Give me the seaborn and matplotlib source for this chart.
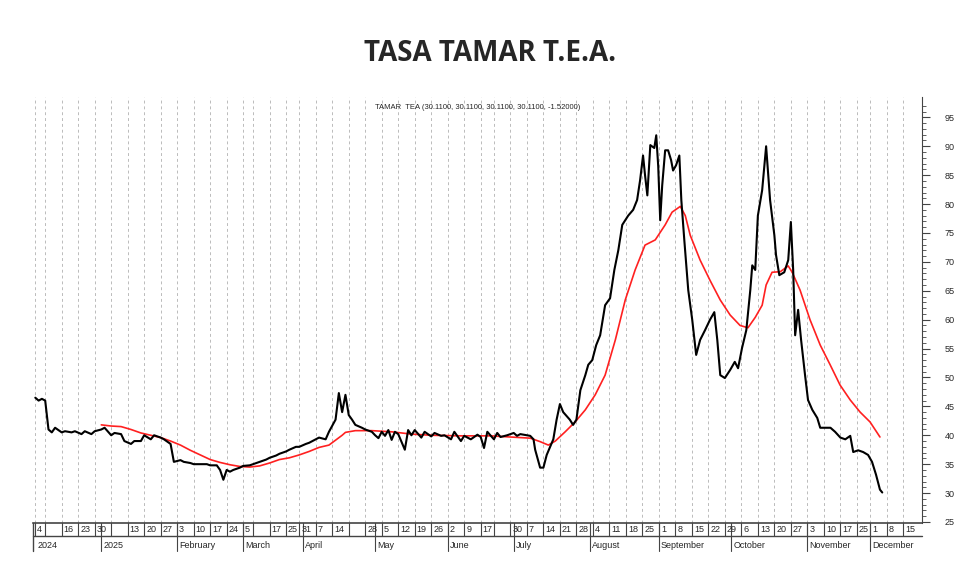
import pandas as pd
import matplotlib
matplotlib.use("Agg")
import matplotlib.pyplot as plt
import matplotlib.transforms as mtransforms
import seaborn as sns

# ----------------------------------------------------------------------
# Data (x = trading session number counted from 2024-12-04)
# ----------------------------------------------------------------------
START = "2024-12-04"
END = "2025-12-19"
HOLIDAYS = ["2025-03-03", "2025-03-04", "2025-03-24", "2025-06-16", "2025-11-24"]

tamar_x = [0, 1, 2, 3, 4, 5, 6, 8, 9, 11, 12, 14, 15, 17, 18, 20, 21, 23, 24, 26,
           27, 29, 30, 32, 33, 35, 36, 38, 39, 41, 42, 44, 45, 47, 48, 50, 52, 53, 55, 56,
           57, 58, 59, 60, 62, 63, 65, 67, 68, 70, 71, 73, 74, 76, 77, 79, 80, 82, 83, 85,
           86, 88, 89, 91, 92, 93, 94, 95, 96, 97, 99, 100, 102, 103, 104, 105, 106, 107, 108, 109,
           110, 112, 113, 114, 115, 117, 118, 120, 121, 123, 124, 126, 127, 129, 130, 132, 134, 135, 136, 137,
           139, 140, 141, 143, 145, 146, 147, 150, 151, 151.5, 153, 154, 155, 157, 158, 159, 160, 162, 163, 164,
           165.2, 166.7, 167.6, 168.8, 170, 171.2, 172.7, 174.2, 175.5, 176.7, 177.9, 179.7, 181.2, 182.4,
           183.3, 184.2, 184.8, 185.5, 186.4, 187.6, 188.2, 188.8, 189.4, 190, 190.9, 191.8, 192.7, 193.3,
           194.2, 195.2, 195.8, 196.7, 197.9, 199.1, 200.3, 201.5, 203, 204.5, 205.8, 206.7, 207.6, 209,
           210.6, 212, 213, 214.2, 215.5, 216.7, 217.3, 218.2, 219, 220.3, 221.5, 222.7, 224, 224.5,
           225.5, 227, 228.2, 229, 229.7, 230.3, 231.2, 232.1, 233.3, 234.2, 235.5, 237, 237.9, 239.4,
           241, 242.4, 244, 245.5, 247, 247.9, 249.4, 250.9, 252.4, 253.6, 254.8, 256, 256.7]
tamar_y = [46.5, 46.0, 46.3, 46.0, 41.0, 40.5, 41.3, 40.5, 40.7, 40.5, 40.7, 40.2, 40.7, 40.2, 40.7, 41.0, 41.3, 40.0, 40.4, 40.2,
           39.0, 38.5, 39.0, 39.0, 40.0, 39.3, 40.0, 39.6, 39.3, 38.5, 35.4, 35.7, 35.4, 35.2, 35.0, 35.0, 35.0, 34.8, 34.8, 34.0,
           32.3, 34.0, 33.7, 34.0, 34.4, 34.7, 34.8, 35.2, 35.4, 35.8, 36.1, 36.5, 36.8, 37.2, 37.5, 38.0, 38.0, 38.5, 38.7, 39.3,
           39.6, 39.3, 40.6, 42.7, 47.3, 44.0, 47.0, 43.5, 42.7, 41.8, 41.3, 41.0, 40.6, 40.0, 39.5, 40.6, 39.9, 40.9, 39.2, 40.6,
           40.2, 37.5, 40.9, 40.0, 40.9, 39.6, 40.6, 39.8, 40.4, 39.9, 40.0, 39.3, 40.6, 39.0, 39.9, 39.3, 40.1, 39.7, 37.8, 40.6,
           39.3, 40.4, 39.7, 40.0, 40.4, 39.9, 40.2, 39.9, 39.3, 37.5, 34.4, 34.4, 36.6, 39.3, 42.7, 45.4, 44.0, 42.7, 41.8, 42.7,
           47.8, 50.4, 52.2, 53.0, 55.6, 57.3, 62.5, 63.7, 68.6, 72.0, 76.4, 78.0, 79.0, 80.7,
           84.1, 88.4, 85.0, 81.5, 90.2, 89.7, 91.9, 86.5, 77.2, 83.2, 89.3, 89.3, 87.6, 85.8,
           86.7, 88.4, 80.7, 73.8, 65.1, 60.0, 53.9, 56.5, 58.2, 60.0, 61.3, 56.5, 50.4, 49.9,
           51.3, 52.7, 51.6, 55.1, 58.2, 65.1, 69.4, 68.6, 78.0, 82.4, 90.0, 80.7, 74.6, 71.2,
           67.7, 68.2, 70.3, 76.9, 68.6, 57.3, 61.7, 56.5, 50.4, 46.1, 44.4, 43.0, 41.3, 41.3,
           41.3, 40.6, 39.6, 39.3, 39.9, 37.1, 37.4, 37.1, 36.6, 35.4, 33.2, 30.6, 30.1]

ma_x = [20, 23, 26, 29, 32, 35, 38, 41, 44, 47, 50, 53, 56, 59, 62, 65, 68, 71, 74, 77,
        80, 83, 86, 89, 93, 94, 97, 102, 108, 114, 120, 129, 138, 144, 150, 153, 155.5, 157.6, 160.6, 163.6,
        166.7, 169.7, 172.7, 175.8, 178.8, 181.8, 184.8, 187.9, 190.9, 193, 195.5, 197, 198.5, 201.5, 204.5, 207.6,
        210.6, 213.6, 216, 218.2, 220.3, 221.5, 223.3, 225.8, 228.2, 229.4, 231.8, 234.8, 237.9, 240.9, 243.9, 247,
        250, 253, 256]
ma_y = [41.8, 41.6, 41.5, 41.0, 40.4, 40.0, 39.6, 39.0, 38.3, 37.4, 36.6, 35.8, 35.3, 34.9, 34.6, 34.5, 34.7, 35.2, 35.8, 36.1,
        36.6, 37.2, 37.9, 38.3, 40.0, 40.5, 40.8, 40.8, 40.6, 40.2, 40.0, 39.9, 39.9, 39.7, 39.5, 38.9, 38.3, 39.0, 40.6, 42.3,
        44.4, 47.0, 50.4, 56.5, 63.4, 68.6, 72.9, 73.8, 76.4, 78.6, 79.6, 78.0, 74.6, 70.3, 66.8, 63.4,
        60.8, 59.0, 58.6, 60.4, 62.5, 66.0, 68.2, 68.3, 69.3, 68.2, 65.1, 60.0, 55.6, 52.2, 48.7, 46.1,
        44.0, 42.3, 39.7]

Y_TICKS = list(range(25, 100, 5))
BLANK_TICKS = ["2024-12-09", "2025-01-06", "2025-03-10", "2025-04-21", "2025-06-23"]

# ----------------------------------------------------------------------
# Trading calendar -> tick positions
# ----------------------------------------------------------------------
sessions = pd.bdate_range(START, END)
sessions = sessions[~sessions.isin(pd.to_datetime(HOLIDAYS))]
pos = pd.Series(range(len(sessions)), index=sessions)

week_ticks = []
for monday in pd.date_range("2024-12-09", END, freq="W-MON"):
    first = sessions[sessions >= monday][0]
    week_ticks.append(first)
week_ticks = [pd.Timestamp(START)] + week_ticks
month_ticks = [sessions[sessions >= m][0] for m in pd.date_range("2025-01-01", "2025-12-01", freq="MS")]

# ----------------------------------------------------------------------
# Plot
# ----------------------------------------------------------------------
sns.set_style("white")
plt.rcParams["font.family"] = ["Liberation Sans", "DejaVu Sans"]

fig = plt.figure(figsize=(9.8, 5.68), dpi=100)
ax = fig.add_axes([0.034, 0.079, 0.907, 0.75])

for t in week_ticks:
    ax.axvline(pos[t], color="#bbbbbb", lw=0.7, ls=(0, (3, 3)), zorder=0)

sns.lineplot(x=ma_x, y=ma_y, ax=ax, color="#ff2020", lw=1.2, zorder=2)
sns.lineplot(x=tamar_x, y=tamar_y, ax=ax, color="black", lw=1.5, zorder=3)

ax.set_xlim(-0.6, 268.8)
ax.set_ylim(24.8, 98.5)
ax.yaxis.tick_right()
ax.set_yticks(Y_TICKS)
ax.set_yticklabels([str(v) for v in Y_TICKS], fontsize=6.5)
ax.set_yticks(range(25, 98), minor=True)
ax.tick_params(axis="y", which="major", length=6, width=0.8, color="#444444", pad=10, right=True, left=False)
ax.tick_params(axis="y", which="minor", length=3, width=0.6, color="#444444", right=True, left=False)
ax.set_xticks([])
for side in ["top", "left"]:
    ax.spines[side].set_visible(False)
ax.spines["right"].set_color("#444444")
ax.spines["bottom"].set_color("#444444")
ax.spines["bottom"].set_linewidth(1.2)

ax.text(0.5, 0.985, "TAMAR  TEA (30.1100, 30.1100, 30.1100, 30.1100, -1.52000)",
        transform=ax.transAxes, ha="center", va="top", fontsize=5.5)

# date strip below the plot
trans = mtransforms.blended_transform_factory(ax.transData, ax.transAxes)
row1, row2 = -0.03, -0.065
ax.plot([0, 1], [row1, row1], transform=ax.transAxes, color="#444444", lw=1.0, clip_on=False)
ax.plot([0, 0], [0, row2], transform=ax.transAxes, color="#444444", lw=1.0, clip_on=False)
blank = pd.to_datetime(BLANK_TICKS)
for t in week_ticks:
    x = pos[t]
    ax.plot([x, x], [0, row1], transform=trans, color="#444444", lw=0.8, clip_on=False)
    if t not in blank:
        ax.text(x + 0.6, row1 / 2, str(t.day), transform=trans, ha="left", va="center", fontsize=6.5)
ax.text(0.6, (row1 + row2) / 2 - 0.005, "2024", transform=trans, ha="left", va="center", fontsize=6.5)
for t in month_ticks:
    x = pos[t]
    ax.plot([x, x], [0, row2], transform=trans, color="#444444", lw=0.8, clip_on=False)
    label = "2025" if t.month == 1 else t.strftime("%B")
    ax.text(x + 0.6, (row1 + row2) / 2 - 0.005, label, transform=trans, ha="left", va="center", fontsize=6.5)

fig.text(0.5, 0.905, "TASA TAMAR T.E.A.", ha="center", va="center", fontsize=20,
         fontweight="bold", family=["Open Sans", "DejaVu Sans"])

fig.savefig("out.png", dpi=100)
